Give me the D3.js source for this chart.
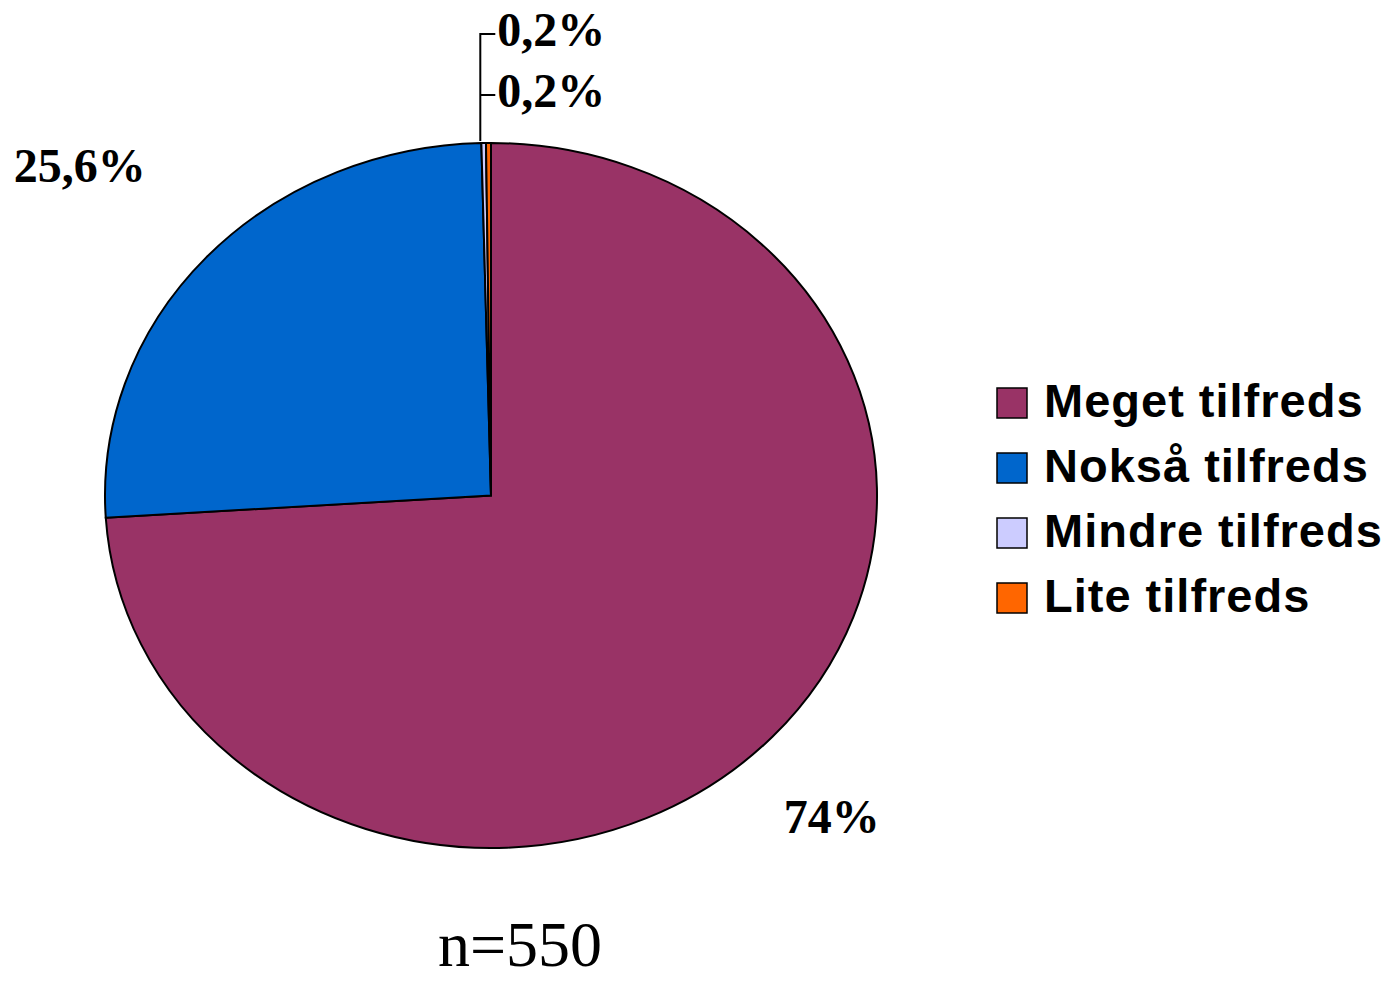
<!DOCTYPE html>
<meta charset='utf-8'>
<head>
  <title>Tilfredshet</title>
  <style>
    body { margin: 0; background: #fff; }
  </style>
</head>
<body>
  <div id='chart'></div>
</body>
<script src='https://d3js.org/d3.v7.min.js'></script>
<script>

var categories = ['Meget tilfreds', 'Nokså tilfreds', 'Mindre tilfreds', 'Lite tilfreds'],
    values = [74, 25.6, 0.2, 0.2],
    labels = ['74%', '25,6%', '0,2%', '0,2%'],
    colors = ['#993366', '#0066CC', '#CCCCFF', '#FF6600'],
    nLabel = 'n=550';

var width = 1395,
    height = 981,
    cx = 491,
    cy = 495.5,
    rx = 386,
    ry = 352.5;

var svg = d3.select('#chart').append('svg')
    .attr('width', width)
    .attr('height', height);

var data = categories.map(function(c, i) {
  return { name: c, value: values[i], label: labels[i], color: colors[i] };
});

var pie = d3.pie()
    .sort(null)
    .value(function(d) { return d.value; });

var arcs = pie(data);

// unit-radius arc stretched into an ellipse
var arc = d3.arc().innerRadius(0).outerRadius(1);

var g = svg.append('g')
    .attr('transform', 'translate(' + cx + ',' + cy + ') scale(' + rx + ',' + ry + ')');

g.selectAll('path')
    .data(arcs)
  .enter().append('path')
    .attr('d', arc)
    .attr('fill', function(d) { return d.data.color; })
    .attr('stroke', '#000')
    .attr('stroke-width', 2)
    .attr('vector-effect', 'non-scaling-stroke');

function pt(angle, k) {
  return [cx + rx * k * Math.sin(angle), cy - ry * k * Math.cos(angle)];
}

var lblStyle = function(sel) {
  sel.attr('font-family', '"Liberation Serif", "Times New Roman", serif')
     .attr('font-weight', 'bold')
     .attr('font-size', 48)
     .attr('fill', '#000');
};

// big slices: labels just outside the edge
var p0 = pt((arcs[0].startAngle + arcs[0].endAngle) / 2 + 0.12, 1.0);
svg.append('text').call(lblStyle)
    .attr('x', p0[0] + 45)
    .attr('y', p0[1] + 67)
    .text(arcs[0].data.label);

var p1 = pt((arcs[1].startAngle + arcs[1].endAngle) / 2 + 0.32, 1.0);
svg.append('text').call(lblStyle)
    .attr('x', p1[0] - 289)
    .attr('y', p1[1] - 6)
    .text(arcs[1].data.label);

// tiny slices: leader line going up with two ticks
var edge = pt(arcs[2].startAngle, 1.0),
    lx = edge[0] - 1,
    ys = [34, 95];

svg.append('path')
    .attr('d', 'M' + lx + ',' + (edge[1] - 2) + 'V' + ys[0] + 'H' + (lx + 15) +
               'M' + lx + ',' + ys[1] + 'H' + (lx + 15))
    .attr('fill', 'none')
    .attr('stroke', '#000')
    .attr('stroke-width', 2);

[arcs[3], arcs[2]].forEach(function(a, i) {
  svg.append('text').call(lblStyle)
      .attr('x', lx + 17)
      .attr('y', ys[i] + 12)
      .text(a.data.label);
});

// legend
var legend = svg.append('g')
    .attr('transform', 'translate(997,388)');

var row = legend.selectAll('g')
    .data(data)
  .enter().append('g')
    .attr('transform', function(d, i) { return 'translate(0,' + (i * 65) + ')'; });

row.append('rect')
    .attr('width', 30)
    .attr('height', 30)
    .attr('fill', function(d) { return d.color; })
    .attr('stroke', '#000')
    .attr('stroke-width', 1.5);

row.append('text')
    .attr('x', 47)
    .attr('y', 29)
    .attr('font-family', '"Liberation Sans", Arial, sans-serif')
    .attr('font-weight', 'bold')
    .attr('font-size', 47)
    .attr('letter-spacing', 1)
    .text(function(d) { return d.name; });

svg.append('text')
    .attr('x', 520)
    .attr('y', 966)
    .attr('text-anchor', 'middle')
    .attr('font-family', '"Liberation Serif", "Times New Roman", serif')
    .attr('font-size', 64)
    .text(nLabel);

</script>
